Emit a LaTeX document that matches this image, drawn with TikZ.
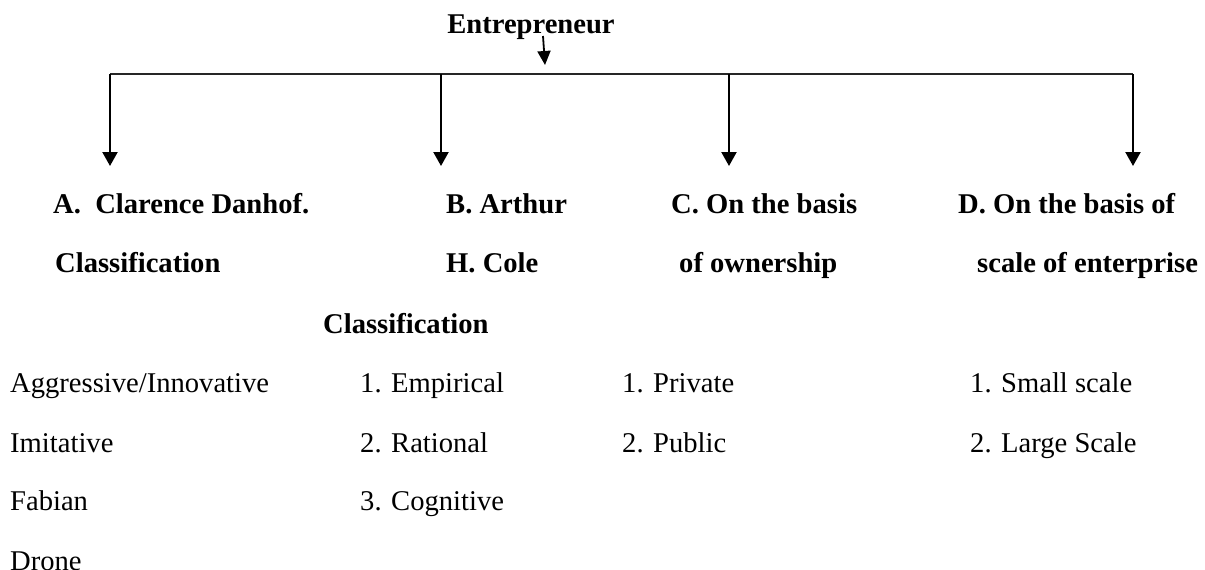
\documentclass[tikz,border=0pt]{standalone}
\usepackage{fontspec}
\setmainfont{Liberation Serif}
\usetikzlibrary{arrows.meta}
\begin{document}
\begin{tikzpicture}[x=1pt,y=-1pt,
  txt/.style={anchor=base west,inner sep=0pt,font=\fontsize{28.6}{32}\selectfont},
  btxt/.style={txt,font=\fontsize{28.6}{32}\selectfont\bfseries},
  bar/.style={line width=1.3pt,draw=black!85},
  arr/.style={line width=2.2pt,-{Triangle[width=15pt,length=14pt]}}]
\useasboundingbox (0,0) rectangle (1205,570);
% title
\node[btxt,anchor=base] (E) at (531,34) {Entrepreneur};
\coordinate (Ts) at (543,36);
\coordinate (Te) at (545,65);
\coordinate (L) at (110,74);
\coordinate (R) at (1133,74);
\coordinate (Bj) at (441,74);
\coordinate (Cj) at (729,74);
\coordinate (Ae) at (110,166);
\coordinate (Be) at (441,166);
\coordinate (Ce) at (729,166);
\coordinate (De) at (1133,166);
\draw[line width=1.8pt,-{Triangle[width=13pt,length=14pt]}] (Ts) -- (Te);
\draw[bar] (L) -- (R);
\draw[arr] (L) -- (Ae);
\draw[arr] (Bj) -- (Be);
\draw[arr] (Cj) -- (Ce);
\draw[arr] (R) -- (De);
% headings
\node[btxt] (A1) at (53,213) {A.\ \ Clarence Danhof.};
\node[btxt] (A2) at (55,272) {Classification};
\node[btxt] (B1) at (446,213) {B. Arthur};
\node[btxt] (B2) at (446,272) {H. Cole};
\node[btxt] (B3) at (323,333) {Classification};
\node[btxt] (C1) at (671,213) {C. On the basis};
\node[btxt] (C2) at (679,272) {of ownership};
\node[btxt] (D1) at (958,213) {D. On the basis of};
\node[btxt] (D2) at (977,272) {scale of enterprise};
% items
\node[txt] (a1) at (10,392) {Aggressive/Innovative};
\node[txt] (a2) at (10,452) {Imitative};
\node[txt] (a3) at (10,510) {Fabian};
\node[txt] (a4) at (10,570) {Drone};
\node[txt] (b1) at (360,392) {1. Empirical};
\node[txt] (b2) at (360,452) {2. Rational};
\node[txt] (b3) at (360,510) {3. Cognitive};
\node[txt] (c1) at (622,392) {1. Private};
\node[txt] (c2) at (622,452) {2. Public};
\node[txt] (d1) at (970,392) {1. Small scale};
\node[txt] (d2) at (970,452) {2. Large Scale};
\end{tikzpicture}
\end{document}
